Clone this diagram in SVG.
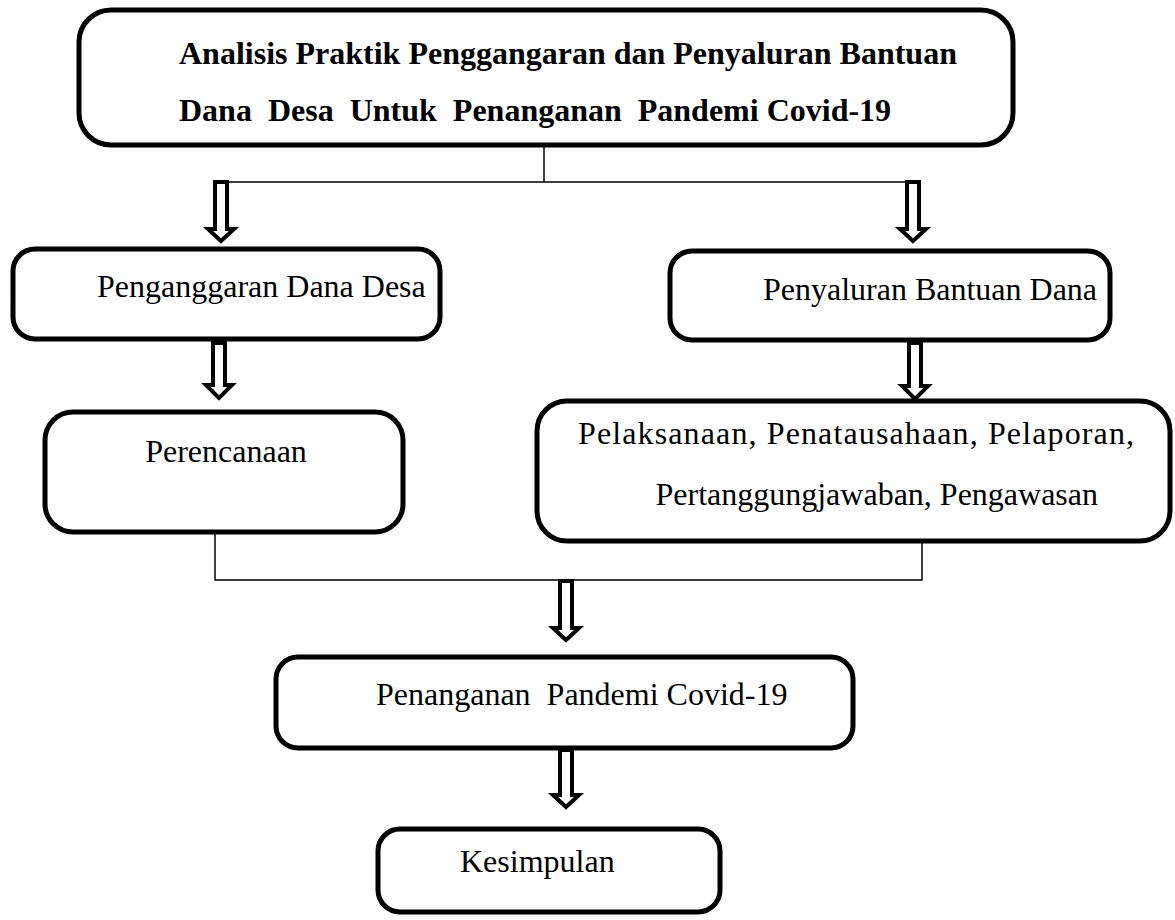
<svg xmlns="http://www.w3.org/2000/svg" width="1175" height="920" viewBox="0 0 1175 920">
<style>
.box{fill:#fff;stroke:#000;stroke-width:5}
.ln{fill:none;stroke:#000;stroke-width:1.5}
.arr{fill:#fff;stroke:#000;stroke-width:4;stroke-linejoin:miter}
.t{font-family:"Liberation Serif","Times New Roman",serif;font-size:32px;fill:#000}
.tb{font-family:"Liberation Serif","Times New Roman",serif;font-size:32px;font-weight:bold;fill:#000}
</style>
<rect width="1175" height="920" fill="#fff"/>
<g id="connectors">
<path class="ln" d="M544,145 V182 M227,182 H907"/>
<path class="ln" d="M215,534 V580 H922 V543"/>
<path class="arr" d="M215,182 H227 V229 H234 L221,241 L208,229 H215 Z"/>
<path class="arr" d="M907,182 H919 V229 H926 L913,241 L900,229 H907 Z"/>
<path class="arr" d="M213,343 H225 V385 H232 L219,398 L206,385 H213 Z"/>
<path class="arr" d="M909,343 H921 V386 H928 L915,399 L902,386 H909 Z"/>
<path class="arr" d="M560,581 H572 V628 H579 L566,640 L553,628 H560 Z"/>
<path class="arr" d="M560,750 H572 V795 H579 L566,807 L553,795 H560 Z"/>
</g>
<g id="n0"><rect class="box" x="79" y="10" width="934" height="135" rx="32"/>
<text class="tb" x="179" y="64">Analisis Praktik Penggangaran dan Penyaluran Bantuan</text>
<text class="tb" x="179" y="121" xml:space="preserve">Dana  Desa  Untuk  Penanganan  Pandemi Covid-19</text></g>
<g id="n1"><rect class="box" x="13" y="249" width="427" height="90" rx="22"/>
<text class="t" x="97" y="297">Penganggaran Dana Desa</text></g>
<g id="n2"><rect class="box" x="670" y="251" width="440" height="89" rx="22"/>
<text class="t" x="930" y="300" text-anchor="middle">Penyaluran Bantuan Dana</text></g>
<g id="n3"><rect class="box" x="45" y="412" width="358" height="120" rx="28"/>
<text class="t" x="226" y="462" text-anchor="middle">Perencanaan</text></g>
<g id="n4"><rect class="box" x="537" y="401" width="633" height="140" rx="30"/>
<text class="t" x="578" y="444" textLength="556" lengthAdjust="spacing">Pelaksanaan, Penatausahaan, Pelaporan,</text>
<text class="t" x="1098" y="505" text-anchor="end">Pertanggungjawaban, Pengawasan</text></g>
<g id="n5"><rect class="box" x="276" y="657" width="577" height="91" rx="22"/>
<text class="t" x="376" y="705" xml:space="preserve">Penanganan  Pandemi Covid-19</text></g>
<g id="n6"><rect class="box" x="378" y="829" width="342" height="83" rx="22"/>
<text class="t" x="460" y="872">Kesimpulan</text></g>
</svg>
